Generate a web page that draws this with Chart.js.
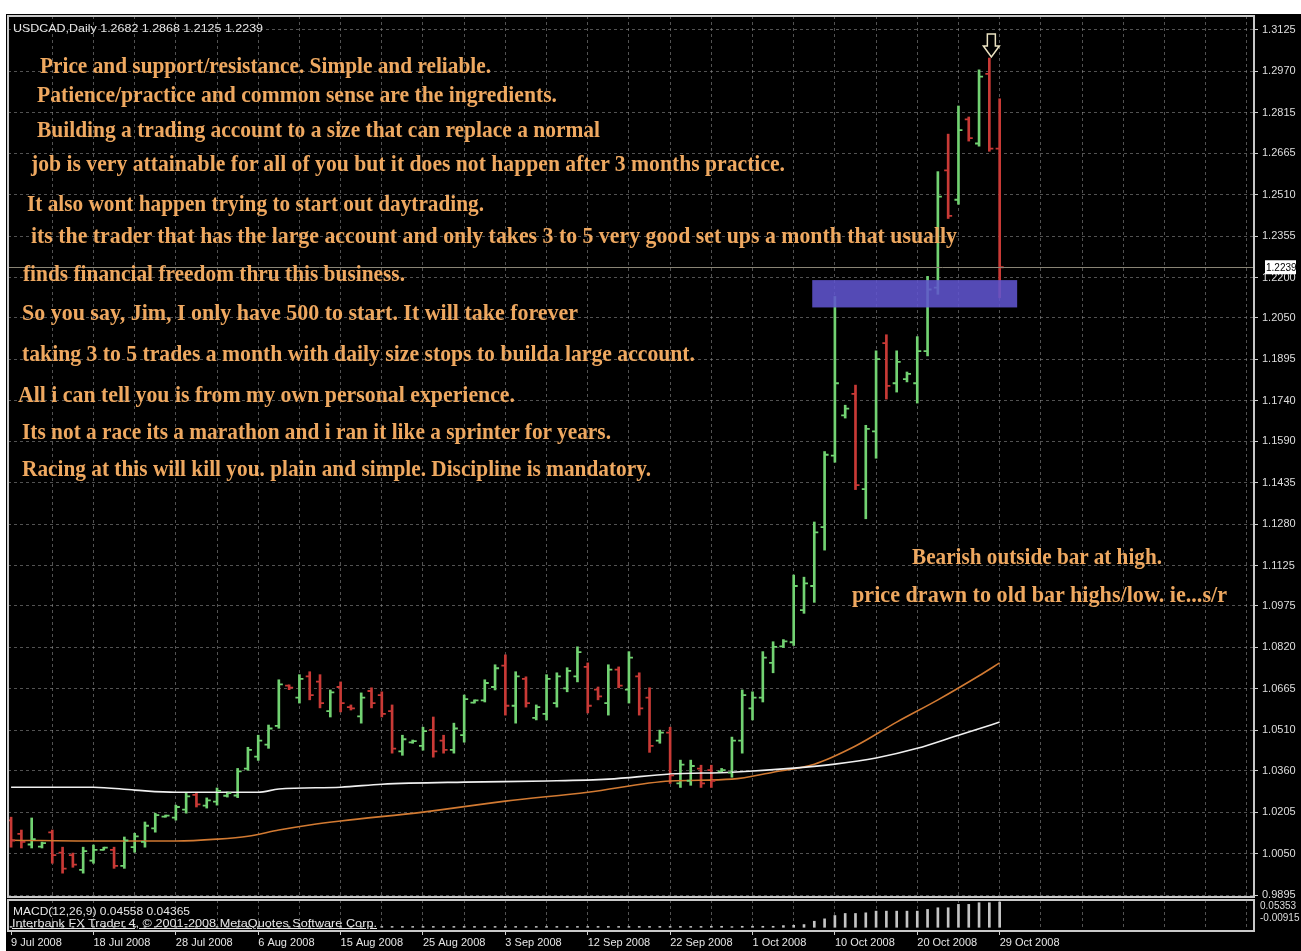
<!DOCTYPE html>
<html>
<head>
<meta charset="utf-8">
<title>USDCAD Daily</title>
<script src="https://cdn.jsdelivr.net/npm/chart.js@4.4.1/dist/chart.umd.min.js"></script>
<style>
  html, body { margin: 0; padding: 0; background: #000; overflow: hidden; }
  #wrap { position: relative; width: 1301px; height: 951px; background: #000; }
  #priceChart { position: absolute; left: 0; top: 0; }
  #macdChart { position: absolute; left: 0; top: 899px; }
  .strip { position: absolute; background: #fff; }
  .note { position: absolute; white-space: nowrap; font: bold 23px "Liberation Serif", "Times New Roman", serif;
          line-height: 23px; color: #eea860; transform-origin: 0 0; }
  .mt4 { position: absolute; white-space: nowrap; font: 11px "Liberation Sans", Arial, sans-serif;
         line-height: 11px; color: #e6e6e6; transform-origin: 0 0; }
</style>
</head>
<body>
<div id="wrap">
  <canvas id="priceChart" width="1301" height="899"></canvas>
  <canvas id="macdChart" width="1301" height="52"></canvas>
  <div class="strip" style="left:0;top:0;width:1301px;height:14px"></div>
  <div class="strip" style="left:0;top:0;width:6px;height:951px"></div>
</div>
<script>
// USDCAD daily bars, 9 Jul 2008 .. 29 Oct 2008 (bar index 0..96)
const dateLabels = ['9 Jul 2008', '18 Jul 2008', '28 Jul 2008', '6 Aug 2008', '15 Aug 2008', '25 Aug 2008',
  '3 Sep 2008', '12 Sep 2008', '22 Sep 2008', '1 Oct 2008', '10 Oct 2008', '20 Oct 2008', '29 Oct 2008'];

const opens = [
  1.0174, 1.0124, 1.0084, 1.0076, 1.0129, 1.0054, 1.0044, 0.9989, 1.0024, 1.0064,
  1.0064, 1.0004, 1.0074, 1.0094, 1.0144, 1.0188, 1.0184, 1.0214, 1.0269, 1.0229,
  1.0244, 1.0266, 1.0267, 1.0367, 1.0412, 1.0457, 1.0527, 1.0677, 1.0632, 1.0712,
  1.0692, 1.0582, 1.0672, 1.0597, 1.0562, 1.0657, 1.0642, 1.0582, 1.0432, 1.0465,
  1.0452, 1.0512, 1.0472, 1.0437, 1.0492, 1.0614, 1.0622, 1.0672, 1.0752, 1.0602,
  1.0702, 1.0557, 1.0572, 1.0612, 1.0667, 1.0712, 1.0747, 1.0662, 1.0612, 1.0737,
  1.0662, 1.0712, 1.0632, 1.0472, 1.0502, 1.0312, 1.0322, 1.0367, 1.0362, 1.0357,
  1.0352, 1.0472, 1.0592, 1.0632, 1.0762, 1.0824, 1.0839, 1.0959, 1.1049, 1.1269,
  1.1536, 1.1686, 1.1766, 1.1411, 1.1626, 1.1956, 1.1806, 1.1821, 1.1806, 1.1926,
  1.2163, 1.2601, 1.2491, 1.2791, 1.2701, 1.2961, 1.2682];
const highs = [
  1.0186, 1.0138, 1.0183, 1.0093, 1.0138, 1.0074, 1.0052, 1.0074, 1.0082, 1.0074,
  1.0074, 1.0112, 1.0126, 1.0168, 1.0201, 1.0194, 1.0231, 1.0276, 1.0276, 1.0258,
  1.0295, 1.0280, 1.0368, 1.0447, 1.0492, 1.0530, 1.0699, 1.0680, 1.0718, 1.0729,
  1.0718, 1.0661, 1.0691, 1.0605, 1.0650, 1.0669, 1.0654, 1.0605, 1.0492, 1.0474,
  1.0522, 1.0560, 1.0492, 1.0537, 1.0642, 1.0624, 1.0699, 1.0755, 1.0792, 1.0729,
  1.0710, 1.0605, 1.0718, 1.0725, 1.0744, 1.0822, 1.0762, 1.0672, 1.0755, 1.0747,
  1.0804, 1.0725, 1.0669, 1.0511, 1.0522, 1.0399, 1.0399, 1.0380, 1.0380, 1.0368,
  1.0485, 1.0661, 1.0654, 1.0804, 1.0841, 1.0849, 1.1090, 1.1082, 1.1288, 1.1551,
  1.2130, 1.1724, 1.1799, 1.1649, 1.1927, 1.1987, 1.1927, 1.1848, 1.1980, 1.2205,
  1.2596, 1.2736, 1.2841, 1.2800, 1.2976, 1.3020, 1.2868];
const lows = [
  1.0074, 1.0071, 1.0071, 1.0071, 1.0014, 0.9977, 0.9999, 0.9977, 1.0014, 1.0063,
  0.9995, 0.9995, 1.0055, 1.0074, 1.0130, 1.0186, 1.0175, 1.0201, 1.0224, 1.0220,
  1.0231, 1.0261, 1.0259, 1.0361, 1.0398, 1.0443, 1.0518, 1.0662, 1.0612, 1.0624,
  1.0594, 1.0560, 1.0579, 1.0586, 1.0537, 1.0594, 1.0560, 1.0425, 1.0417, 1.0462,
  1.0436, 1.0410, 1.0425, 1.0425, 1.0466, 1.0612, 1.0616, 1.0661, 1.0567, 1.0537,
  1.0597, 1.0549, 1.0549, 1.0597, 1.0654, 1.0691, 1.0575, 1.0624, 1.0567, 1.0669,
  1.0612, 1.0567, 1.0428, 1.0462, 1.0312, 1.0297, 1.0305, 1.0297, 1.0297, 1.0353,
  1.0335, 1.0425, 1.0549, 1.0616, 1.0725, 1.0819, 1.0827, 1.0947, 1.0988, 1.1183,
  1.1511, 1.1676, 1.1409, 1.1300, 1.1526, 1.1747, 1.1773, 1.1811, 1.1732, 1.1908,
  1.2138, 1.2421, 1.2474, 1.2710, 1.2691, 1.2672, 1.2125];
const closes = [
  1.0099, 1.0094, 1.0104, 1.0089, 1.0044, 0.9994, 1.0009, 1.0059, 1.0064, 1.0072,
  1.0004, 1.0099, 1.0114, 1.0154, 1.0194, 1.0192, 1.0224, 1.0264, 1.0234, 1.0249,
  1.0284, 1.0276, 1.0357, 1.0437, 1.0472, 1.0517, 1.0682, 1.0670, 1.0702, 1.0642,
  1.0612, 1.0652, 1.0612, 1.0592, 1.0632, 1.0612, 1.0572, 1.0442, 1.0477, 1.0470,
  1.0507, 1.0432, 1.0437, 1.0517, 1.0627, 1.0622, 1.0687, 1.0742, 1.0602, 1.0712,
  1.0612, 1.0597, 1.0702, 1.0712, 1.0732, 1.0802, 1.0602, 1.0637, 1.0737, 1.0677,
  1.0782, 1.0592, 1.0452, 1.0502, 1.0342, 1.0382, 1.0377, 1.0312, 1.0322, 1.0362,
  1.0472, 1.0642, 1.0632, 1.0782, 1.0822, 1.0842, 1.1049, 1.1059, 1.1249, 1.1539,
  1.1806, 1.1711, 1.1426, 1.1636, 1.1896, 1.1796, 1.1886, 1.1841, 1.1926, 1.2156,
  1.2503, 1.2431, 1.2751, 1.2721, 1.2951, 1.2682, 1.2239];

// moving averages, read at a few bars
const slowMaBars = [0, 8, 12, 16, 24, 26, 32, 36, 44, 52, 58, 64, 70, 76, 80, 84, 88, 92, 96];
const slowMa = [1.0298, 1.0298, 1.0287, 1.0279, 1.0279, 1.0291, 1.0298, 1.0309, 1.0317, 1.0321,
  1.0328, 1.0347, 1.0354, 1.0369, 1.0384, 1.0407, 1.0443, 1.0492, 1.0541];
const fastMaBars = [0, 8, 16, 20, 23, 26, 29, 32, 40, 48, 56, 64, 70, 74, 78, 82, 86, 90, 94, 96];
const fastMa = [1.0100, 1.0097, 1.0097, 1.0104, 1.0115, 1.0138, 1.0157, 1.0172, 1.0205, 1.0246,
  1.0279, 1.0321, 1.0328, 1.0354, 1.0384, 1.0452, 1.0541, 1.0624, 1.0714, 1.0762];

// MACD(12,26,9) histogram
const macdHist = [
  0.0015, 0.0015, 0.0015, 0.0015, 0.0015, 0.0015, 0.0015, 0.0015, 0.0015, 0.0015,
  0.0015, 0.0015, 0.0015, 0.0015, 0.0015, 0.0015, 0.0015, 0.0015, 0.0015, 0.0015,
  0.0015, 0.0015, 0.0015, 0.0015, 0.0015, 0.0015, 0.0015, 0.0015, 0.0015, 0.0015,
  0.0015, 0.0015, 0.0015, 0.0015, 0.0015, 0.0015, 0.0015, 0.0015, 0.0015, 0.0015,
  0.0015, 0.0015, 0.0015, 0.0015, 0.0015, 0.0015, 0.0015, 0.0015, 0.0015, 0.0015,
  0.0015, 0.0015, 0.0015, 0.0015, 0.0015, 0.0015, 0.0015, 0.0015, 0.0015, 0.0015,
  0.0015, 0.0015, 0.0015, 0.0015, 0.0015, 0.0015, 0.0015, 0.0015, 0.0018, 0.0018,
  0.0012, 0.0018, 0.0018, 0.0018, 0.0018, 0.0030, 0.0036, 0.0049, 0.0109, 0.0152,
  0.0212, 0.0249, 0.0249, 0.0261, 0.0291, 0.0291, 0.0291, 0.0291, 0.0291, 0.0322,
  0.0352, 0.0352, 0.0413, 0.0413, 0.0443, 0.0443, 0.0456];

const priceTicks = ['0.9895', '1.0050', '1.0205', '1.0360', '1.0510', '1.0665', '1.0820', '1.0975',
  '1.1125', '1.1280', '1.1435', '1.1590', '1.1740', '1.1895', '1.2050', '1.2200', '1.2355', '1.2510',
  '1.2665', '1.2815', '1.2970', '1.3125'];
const macdTickValues = [0.0388, 0.0170];
const macdTickLabels = ['0.05353', '-0.00915'];

// support/resistance box and the arrow over the high
const zoneBars = [77.8, 97.7];
const zonePrices = [1.2089, 1.2191];
const arrowBar = 95;

const headerText = 'USDCAD,Daily  1.2682 1.2868 1.2125 1.2239';
const macdText = 'MACD(12,26,9) 0.04558 0.04365';
const brokerText = 'Interbank FX Trader 4, \u00a9 2001-2008 MetaQuotes Software Corp.';
const noteLines = [
  'Price and support/resistance. Simple and reliable.',
  'Patience/practice and common sense are the ingredients.',
  'Building a trading account to a size that can replace a normal',
  'job is very attainable for all of you but it does not happen after 3 months practice.',
  'It also wont happen trying to start out daytrading.',
  'its the trader that has the large account and  only takes 3 to 5 very good set ups a month that usually',
  'finds financial freedom thru this business.',
  'So you say, Jim, I only have 500 to start. It will take forever',
  'taking 3 to 5 trades a month with daily size stops to builda large account.',
  'All i can tell you is from my own personal experience.',
  'Its not a race its a marathon and i ran it like a sprinter for years.',
  'Racing at this will kill you. plain and simple. Discipline is mandatory.',
  'Bearish outside bar at high.',
  'price drawn to old bar highs/low. ie...s/r'
];

// ---- layout (pixels) ----
const notePlaces = [
  [40, 73, 491], [37, 102, 557], [37, 137, 600], [31, 171, 785], [27, 211, 484], [31, 243, 957],
  [23, 281, 405], [22, 320, 578], [22, 361, 695], [18, 402, 515], [22, 439, 611], [22, 476, 651],
  [912, 564, 1162], [852, 602, 1227]
];

const UP = '#72d272';
const DOWN = '#c93a36';
const GRID = 'rgba(150,150,150,0.55)';
const barColors = closes.map((c, i) => (c >= opens[i] ? UP : DOWN));
const xMin = -0.3, xMax = 120.7;

const gridBars = [];
for (let b = 0; b <= 120; b += 4) gridBars.push(b);

// no extra room for edge labels: the panes sit at fixed pixels
function noPadX(s, h) { s.height = h; s.paddingLeft = 0; s.paddingRight = 0; }
function noPadY(s) { s.width = 47; s.paddingTop = 0; s.paddingBottom = 0; }

// light frame round each pane
const framePlugin = {
  id: 'frame',
  afterDraw(chart) {
    const a = chart.chartArea;
    const ctx = chart.ctx;
    ctx.save();
    ctx.strokeStyle = '#c9c9c9';
    ctx.lineWidth = 2;
    ctx.strokeRect(a.left, a.top, a.right - a.left, a.bottom - a.top);
    ctx.restore();
  }
};

// open/close ticks, the zone, bid line, arrow and the price marker
const ohlcPlugin = {
  id: 'ohlc',
  afterDatasetsDraw(chart) {
    const { ctx, chartArea: a } = chart;
    const x = chart.scales.x, y = chart.scales.y;
    ctx.save();
    ctx.lineWidth = 1.8;
    opens.forEach((o, i) => {
      const px = x.getPixelForValue(i);
      const po = y.getPixelForValue(o);
      const pc = y.getPixelForValue(closes[i]);
      ctx.strokeStyle = barColors[i];
      ctx.beginPath();
      ctx.moveTo(px - 4, po); ctx.lineTo(px, po);
      ctx.moveTo(px, pc); ctx.lineTo(px + 4, pc);
      ctx.stroke();
    });

    const zx0 = x.getPixelForValue(zoneBars[0]);
    const zx1 = x.getPixelForValue(zoneBars[1]);
    const zy0 = y.getPixelForValue(zonePrices[1]);
    const zy1 = y.getPixelForValue(zonePrices[0]);
    ctx.fillStyle = 'rgba(96,84,206,0.88)';
    ctx.fillRect(zx0, zy0, zx1 - zx0, zy1 - zy0);

    const by = Math.round(y.getPixelForValue(closes[closes.length - 1])) + 0.5;
    ctx.strokeStyle = '#8a8576';
    ctx.lineWidth = 1;
    ctx.beginPath(); ctx.moveTo(a.left, by); ctx.lineTo(a.right, by); ctx.stroke();

    const ax = x.getPixelForValue(arrowBar) + 2;
    const ay = y.getPixelForValue(highs[arrowBar]) - 1;
    ctx.strokeStyle = '#ece3c2';
    ctx.lineWidth = 1.5;
    ctx.beginPath();
    ctx.moveTo(ax - 4, ay - 23); ctx.lineTo(ax + 4, ay - 23); ctx.lineTo(ax + 4, ay - 11);
    ctx.lineTo(ax + 8, ay - 11); ctx.lineTo(ax, ay); ctx.lineTo(ax - 8, ay - 11);
    ctx.lineTo(ax - 4, ay - 11); ctx.closePath();
    ctx.stroke();
    ctx.restore();
  },
  afterDraw(chart) {
    const { ctx, chartArea: a } = chart;
    const y = chart.scales.y;
    const last = closes[closes.length - 1];
    const py = y.getPixelForValue(last);
    ctx.save();
    ctx.fillStyle = '#ffffff';
    ctx.fillRect(a.right + 11, py - 7, 31, 14);
    ctx.fillStyle = '#000000';
    ctx.font = '10px "Liberation Sans", Arial, sans-serif';
    ctx.textBaseline = 'middle';
    ctx.fillText(last.toFixed(4), a.right + 12, py + 0.5);
    ctx.restore();
  }
};

new Chart(document.getElementById('priceChart'), {
  type: 'bar',
  data: {
    datasets: [
      {
        type: 'line',
        data: slowMaBars.map((b, k) => ({ x: b, y: slowMa[k] })),
        borderColor: '#f0f0f0',
        borderWidth: 1.6,
        pointRadius: 0,
        cubicInterpolationMode: 'monotone',
        order: 0
      },
      {
        type: 'line',
        data: fastMaBars.map((b, k) => ({ x: b, y: fastMa[k] })),
        borderColor: '#d27a32',
        borderWidth: 1.6,
        pointRadius: 0,
        cubicInterpolationMode: 'monotone',
        order: 0
      },
      {
        type: 'bar',
        data: closes.map((c, i) => ({ x: i, y: [lows[i], highs[i]] })),
        backgroundColor: barColors,
        barThickness: 2,
        order: 1
      }
    ]
  },
  options: {
    responsive: false,
    animation: false,
    layout: { padding: { left: 8, top: 16, right: 0, bottom: 2 } },
    plugins: { legend: { display: false }, tooltip: { enabled: false } },
    scales: {
      x: {
        type: 'linear', min: xMin, max: xMax, offset: false,
        afterBuildTicks: s => { s.ticks = gridBars.filter(b => b > 0).map(b => ({ value: b })); },
        afterFit: s => noPadX(s, 0),
        ticks: { display: false },
        grid: { color: GRID, drawTicks: false, offset: false },
        border: { display: false, dash: [3, 3] }
      },
      y: {
        position: 'right', min: 0.9888, max: 1.3177,
        afterBuildTicks: s => { s.ticks = priceTicks.map(t => ({ value: parseFloat(t) })); },
        afterFit: noPadY,
        ticks: {
          callback: (v, i) => priceTicks[i],
          color: '#dedede',
          font: { family: 'Liberation Sans', size: 11 },
          padding: 4
        },
        grid: { color: GRID, tickLength: 4, tickColor: '#cfcfcf', tickBorderDash: [] },
        border: { display: false, dash: [3, 3] }
      }
    }
  },
  plugins: [ohlcPlugin, framePlugin]
});

const isLabelled = v => v % 8 === 0 && v / 8 < dateLabels.length;

new Chart(document.getElementById('macdChart'), {
  type: 'bar',
  data: {
    datasets: [{
      data: macdHist.map((v, i) => ({ x: i, y: v })),
      backgroundColor: '#c4c4c4',
      barThickness: 2
    }]
  },
  options: {
    responsive: false,
    animation: false,
    layout: { padding: { left: 8, top: 1, right: 0, bottom: 0 } },
    plugins: { legend: { display: false }, tooltip: { enabled: false } },
    scales: {
      x: {
        type: 'linear', min: xMin, max: xMax, offset: false,
        afterBuildTicks: s => { s.ticks = gridBars.map(b => ({ value: b })); },
        afterFit: s => noPadX(s, 20),
        ticks: {
          autoSkip: false, maxRotation: 0, align: 'start', padding: 1,
          color: '#e6e6e6',
          font: { family: 'Liberation Sans', size: 11 },
          callback: v => (isLabelled(v) ? dateLabels[v / 8] : '')
        },
        grid: {
          color: c => (c.tick && c.tick.value === 0 ? 'rgba(0,0,0,0)' : GRID),
          tickLength: 4,
          tickColor: c => (c.tick && isLabelled(c.tick.value) ? '#cfcfcf' : 'rgba(0,0,0,0)'),
          tickBorderDash: [],
          offset: false
        },
        border: { display: false, dash: [3, 3] }
      },
      y: {
        position: 'right', min: -0.0067, max: 0.0492,
        afterBuildTicks: s => { s.ticks = macdTickValues.map(v => ({ value: v })); },
        afterFit: noPadY,
        ticks: {
          callback: (v, i) => macdTickLabels[i],
          color: '#dedede',
          font: { family: 'Liberation Sans', size: 10 },
          padding: 6
        },
        grid: { display: false, drawTicks: false },
        border: { display: false }
      }
    }
  },
  plugins: [framePlugin]
});

// text overlays, squeezed to the widths seen in the screenshot
const wrap = document.getElementById('wrap');
function placeText(text, cls, left, baseline, right, ascent, underline) {
  const el = document.createElement('div');
  el.className = cls;
  el.textContent = text;
  el.style.left = left + 'px';
  el.style.top = (baseline - ascent) + 'px';
  if (underline) el.style.textDecoration = 'underline';
  wrap.appendChild(el);
  const w = el.getBoundingClientRect().width;
  el.style.transform = 'scaleX(' + ((right - left) / w).toFixed(4) + ')';
}

noteLines.forEach((t, k) => {
  const p = notePlaces[k];
  placeText(t, 'note', p[0], p[1], p[2], 19.3);
});
placeText(headerText, 'mt4', 13, 32, 263, 9.3);
placeText(macdText, 'mt4', 13, 915, 190, 9.3);
placeText(brokerText, 'mt4', 12, 927, 377, 9.3, true);
</script>
</body>
</html>
